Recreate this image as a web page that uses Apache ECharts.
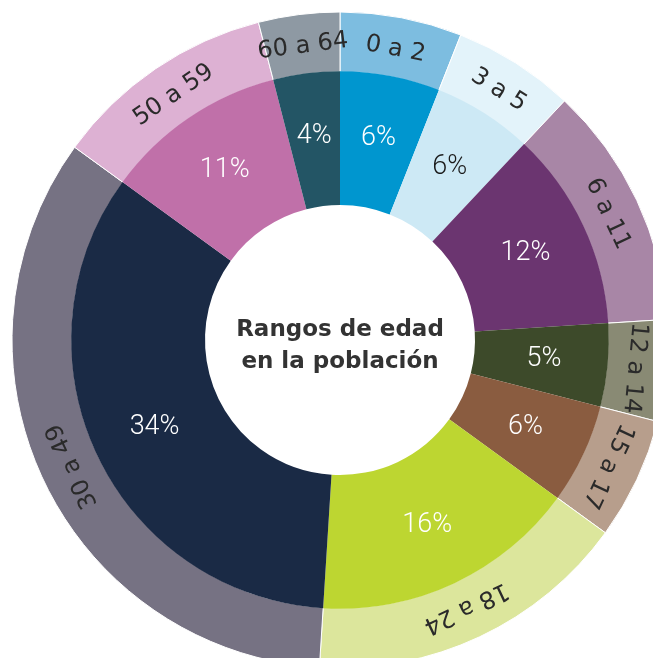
<!DOCTYPE html>
<html><head><meta charset="utf-8">
<script src="https://cdn.jsdelivr.net/npm/echarts@6/dist/echarts.min.js"></script>
<style>html,body{margin:0;padding:0;background:#fff}#c{width:653px;height:658px}</style>
</head><body><div id="c"></div>
<script>
// Data
const categories = ['0 a 2', '3 a 5', '6 a 11', '12 a 14', '15 a 17', '18 a 24', '30 a 49', '50 a 59', '60 a 64'];
const percentages = [6, 6, 12, 5, 6, 16, 34, 11, 4];
const centerTitle = 'Rangos de edad\nen la población';

// Styles
const innerColors = ['#0096CF', '#CDE9F5', '#6B3570', '#3D4A2A', '#8A5C40', '#BDD631', '#1A2A45', '#C070A9', '#235565'];
const outerColors = ['#7DBDE0', '#E3F3FA', '#A886A6', '#898A74', '#B79E8C', '#DCE69C', '#767283', '#DDB1D3', '#8E99A3'];
const percentLabelColors = ['#ffffff', '#1a1a1a', '#ffffff', '#ffffff', '#ffffff', '#ffffff', '#ffffff', '#ffffff', '#ffffff'];

const total = percentages.reduce((a, b) => a + b, 0);
let cum = 0;
const labelData = categories.map((c, i) => {
  const mid = (cum + percentages[i] / 2) / total * 360;
  cum += percentages[i];
  return { name: c, value: percentages[i], label: { rotate: -mid } };
});
const outerData = categories.map((c, i) => ({
  name: c, value: percentages[i], itemStyle: { color: outerColors[i] }
}));
const innerData = categories.map((c, i) => ({
  name: c, value: percentages[i],
  itemStyle: { color: innerColors[i] },
  label: { color: percentLabelColors[i] }
}));

const chart = echarts.init(document.getElementById('c'), null, { renderer: 'canvas' });
chart.setOption({
  animation: false,
  backgroundColor: '#ffffff',
  graphic: [{
    type: 'text', x: 340, y: 346, z: 100,
    style: {
      text: centerTitle,
      align: 'center', verticalAlign: 'middle',
      fontFamily: '"DejaVu Sans", sans-serif', fontWeight: 'bold', fontSize: 23,
      fill: '#333333', lineHeight: 32
    }
  }],
  series: [
    {
      type: 'pie', center: [340, 340], radius: [268, 328], startAngle: 90, clockwise: true,
      avoidLabelOverlap: false, silent: true,
      itemStyle: { borderWidth: 1, borderColor: '#ffffff' },
      label: { show: false },
      labelLine: { show: false },
      emphasis: { disabled: true },
      data: outerData
    },
    {
      type: 'pie', center: [340, 340], radius: [135, 268.8], startAngle: 90, clockwise: true,
      avoidLabelOverlap: false, silent: true, minShowLabelAngle: 0,
      itemStyle: { borderWidth: 0 },
      label: {
        show: true, position: 'inside', formatter: '{c}%',
        fontFamily: 'Roboto, Lato, sans-serif', fontSize: 27, fontWeight: 300
      },
      labelLine: { show: false },
      emphasis: { disabled: true },
      data: innerData
    },
    {
      // label carrier for the outer ring names (no visible marks)
      type: 'pie', center: [340, 340], radius: [258, 328], startAngle: 90, clockwise: true,
      avoidLabelOverlap: false, silent: true, minShowLabelAngle: 0, z: 5,
      itemStyle: { color: 'rgba(0,0,0,0)', borderWidth: 0 },
      label: {
        show: true, position: 'inside', formatter: '{b}',
        fontFamily: '"DejaVu Sans", sans-serif', fontSize: 24, color: '#2a2a2a'
      },
      labelLine: { show: false },
      emphasis: { disabled: true },
      data: labelData
    }
  ]
});
</script>
</body></html>
